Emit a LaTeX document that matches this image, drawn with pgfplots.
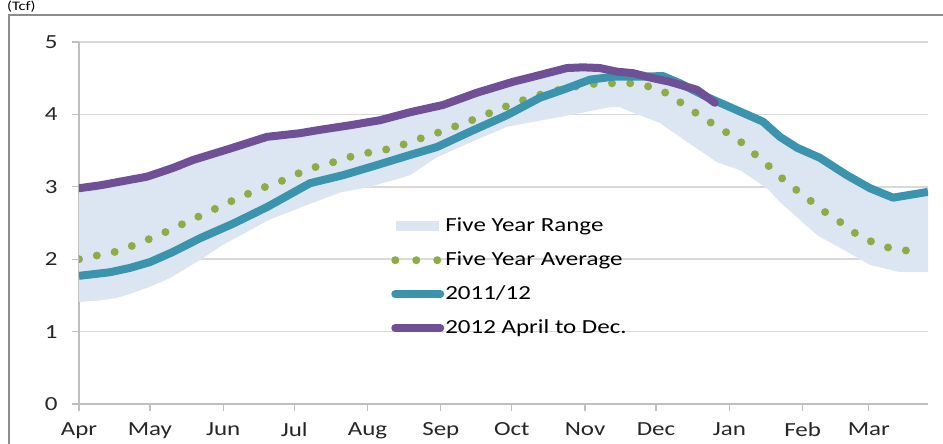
\documentclass[border=0pt]{standalone}
\usepackage{fontspec}
\setmainfont{Carlito}[FakeStretch=1.25]
\usepackage{pgfplots}
\pgfplotsset{compat=1.18}
\definecolor{bandblue}{HTML}{DCE6F2}
\definecolor{avggreen}{HTML}{8DAC45}
\definecolor{tealline}{HTML}{3A94AE}
\definecolor{purpleline}{HTML}{6F5097}
\definecolor{gridgray}{HTML}{D9D9D9}
\definecolor{axisgray}{HTML}{BFBFBF}
\definecolor{framegray}{HTML}{8C8C8C}

\begin{document}
\begin{tikzpicture}
\begin{axis}[
    at={(0,0)}, anchor=south west,
    scale only axis, width=849pt, height=362pt,
    xmin=0, xmax=359, ymin=0, ymax=5,
    axis x line*=bottom, axis y line*=left,
    axis line style={axisgray, line width=1.2pt, -},
    xtick={0,30,61,91,122,153,183,214,244,275,306,334},
    xticklabels={Apr,May,Jun,Jul,Aug,Sep,Oct,Nov,Dec,Jan,Feb,Mar},
    ytick={0,1,2,3,4,5},
    ymajorgrids, grid style={gridgray, line width=1.5pt},
    tick align=outside, major tick length=7pt,
    tick style={axisgray, line width=1.2pt},
    ticklabel style={font=\fontsize{20}{24}\selectfont, text=black!85},
    /pgf/number format/assume math mode=true,
    xticklabel style={yshift=-8pt},
    yticklabel style={xshift=-11pt},
    legend cell align=left,
    legend style={at={(0.3546,0.5166)}, anchor=north west, draw=none, fill=none,
        inner sep=0pt, row sep=16pt, column sep=0pt,
        font=\fontsize{20}{24}\selectfont,
        nodes={inner sep=0pt, text height=14pt, text depth=4pt}},
    line join=round,
]

% five year range (upper edge, then lower edge backwards)
\addplot[fill=bandblue, draw=none,
    legend image code/.code={\fill[bandblue] (12pt,-5pt) rectangle (55pt,5pt); \path (0pt,0pt) (53pt,0pt);}]
coordinates {
(0,2.98) (8.9,3.02) (28.8,3.14) (39.7,3.26) (48.2,3.37) (65.1,3.54) (79.5,3.69)
(93.4,3.74) (100.6,3.78) (114.6,3.85) (127.3,3.92) (140,4.03) (153.9,4.13)
(168.3,4.30) (183.5,4.45) (192,4.52) (206.3,4.64) (213.1,4.65) (220.3,4.64)
(227.5,4.59) (234.2,4.57) (246.9,4.53) (254.1,4.43) (265.5,4.24) (275.3,4.10)
(289.2,3.90) (296.4,3.69) (303.6,3.54) (313.3,3.40) (324.7,3.16) (334.5,2.98)
(344.2,2.85) (359,2.93)
(359,1.82) (347.3,1.82) (334.6,1.92) (324.9,2.10) (312.2,2.33) (302.5,2.61)
(296.4,2.79) (290.9,2.98) (279.5,3.23) (269.8,3.34) (257.1,3.62) (245.7,3.88)
(233,4.04) (228.8,4.10) (224.5,4.10) (207.6,3.99) (181,3.83) (161,3.55)
(151,3.40) (140,3.16) (123,3.00) (110.4,2.92) (98.9,2.78) (80.8,2.55)
(72.3,2.40) (60.9,2.20) (51.2,1.99) (38.5,1.74) (30,1.62) (21.6,1.52)
(15.2,1.46) (8.9,1.43) (0,1.41)
} -- cycle;
\addlegendentry{Five Year Range}

% five year average
\addplot[avggreen, line width=8pt, line cap=round, dash pattern=on 0pt off 18.2pt,
    legend image code/.code={\draw[avggreen, line width=8pt, line cap=round, dash pattern=on 0pt off 21pt] (11pt,0pt) -- (57pt,0pt); \path (0pt,0pt) (53pt,0pt);}]
coordinates {
(0,2.00) (8.9,2.06) (16.5,2.11) (24.5,2.21) (32.1,2.31) (39.7,2.42) (46.5,2.53)
(54.1,2.64) (60.9,2.75) (68.5,2.86) (76.1,2.97) (83.7,3.05) (90.9,3.16)
(98.5,3.26) (106.6,3.33) (114.2,3.41) (122.2,3.47) (130.7,3.52) (138.7,3.60)
(146.3,3.69) (153.9,3.77) (161.9,3.87) (169.6,3.96) (177.2,4.07) (184.8,4.16)
(192.4,4.25) (200.4,4.32) (208.9,4.38) (216.9,4.42) (225.4,4.43) (233.4,4.43)
(241.9,4.38) (249.5,4.28) (255.4,4.14) (262.2,3.99) (268.9,3.85) (275.3,3.72)
(281.6,3.58) (287.1,3.41) (293,3.25) (298.5,3.08) (304.4,2.93) (310.4,2.78)
(316.7,2.62) (323,2.49) (329.4,2.33) (336.6,2.22) (344.2,2.14) (352.6,2.11)
};
\addlegendentry{Five Year Average}

% 2011/12
\addplot[tealline, line width=8pt,
    legend image code/.code={\draw[tealline, line width=8pt, line cap=round] (11pt,0pt) -- (56pt,0pt); \path (0pt,0pt) (53pt,0pt);}]
coordinates {
(0,1.77) (13.1,1.82) (21.6,1.88) (30,1.96) (39.7,2.10) (51.2,2.29) (65.1,2.49)
(79.5,2.72) (97.7,3.05) (111.6,3.16) (126,3.30) (140,3.44) (151.4,3.55)
(166.6,3.78) (181,3.99) (194.9,4.23) (206.3,4.36) (216.1,4.48) (225.8,4.52)
(237.2,4.52) (246.9,4.53) (254.1,4.43) (265.5,4.24) (275.3,4.10) (289.2,3.90)
(296.4,3.69) (303.6,3.54) (313.3,3.40) (324.7,3.16) (334.5,2.98) (344.2,2.85)
(359,2.93)
};
\addlegendentry{2011/12}

% 2012 April to Dec.
\addplot[purpleline, line width=8pt, line cap=round,
    legend image code/.code={\draw[purpleline, line width=8pt, line cap=round] (11pt,0pt) -- (56pt,0pt); \path (0pt,0pt) (53pt,0pt);}]
coordinates {
(0,2.98) (8.9,3.02) (28.8,3.14) (39.7,3.26) (48.2,3.37) (65.1,3.54) (79.5,3.69)
(93.4,3.74) (100.6,3.78) (114.6,3.85) (127.3,3.92) (140,4.03) (153.9,4.13)
(168.3,4.30) (183.5,4.45) (192,4.52) (206.3,4.64) (213.1,4.65) (220.3,4.64)
(227.5,4.59) (234.2,4.57) (242.7,4.50) (249.9,4.45) (261.3,4.34) (268.9,4.16)
};
\addlegendentry{2012 April to Dec.}

\end{axis}

% chart frame and unit label
\draw[framegray, line width=1.5pt] (-70pt,-45pt) -- (-70pt,389pt) -- (870pt,389pt);
\node[anchor=base west, inner sep=0pt, font=\fontsize{13}{15}\selectfont] at (-72pt,393.5pt) {(Tcf)};
\pgfresetboundingbox
\path[use as bounding box] (-79pt,-40pt) rectangle (864pt,404pt);
\end{tikzpicture}
\end{document}
